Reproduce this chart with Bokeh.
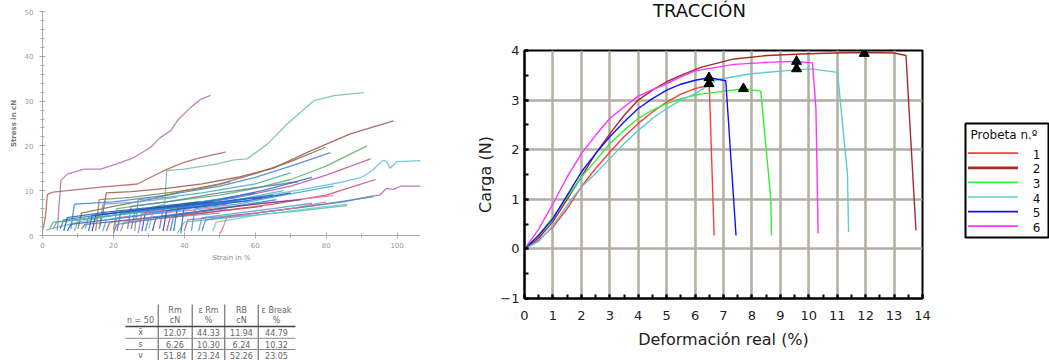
from bokeh.plotting import figure
from bokeh.layouts import row, column
from bokeh.models import Range1d, SingleIntervalTicker
from bokeh.core.properties import value
from bokeh.embed import file_html
from bokeh.resources import INLINE

FONT = "DejaVu Sans"

# ---------------- Left chart: Stress (cN) vs Strain (%) ----------------
left_strain = [
    [4.2, 4.6, 5.2, 7, 11.7, 16.4, 21, 25.8, 30.5, 33.3, 36.2, 38, 41.8, 44.6, 47.4],
    [0, 0.8, 1.4, 3, 7, 16.4, 26.8, 30.5, 35.2, 39.9, 44.6, 51.6],
    [1, 10, 20, 30, 34.5, 35, 39.9, 49.3, 54, 57.7, 63.4, 69, 76.5, 82.2, 90.6],
    [16, 17, 18, 25, 35, 45, 55, 65, 75.6, 86.8, 99],
    [20, 21, 30, 40, 50, 60, 70, 80, 91.5],
    [8, 9, 20, 35, 50, 60, 70, 81.2],
    [10, 11, 20, 30, 40, 50, 60, 70, 79.8],
    [25, 26, 40, 55, 70, 80, 92.5],
    [30, 31, 45, 60, 75, 85, 90, 93, 95, 96.2, 97, 98, 100, 106.6],
    [35, 36, 50, 65, 80, 93.9],
    [40, 41, 60, 75, 85, 92, 95, 97, 99, 101, 106.6],
    [38, 40, 55, 70, 85.9],
    [45, 46, 60, 75, 93.4],
    [20, 21, 40, 60, 82],
    [5, 6, 15, 30, 45, 60],
    [12, 13, 25, 40, 55, 68],
    [2, 3, 15, 30, 40],
    [28, 29, 40, 55, 65],
    [33, 34, 45, 55],
    [18, 19, 30, 45, 62],
    [24, 25, 35, 50, 72],
    [9, 10, 25, 40, 58],
    [14, 15, 30, 48],
    [27, 28, 40, 52],
    [48, 49, 60, 75, 86],
    [36, 37, 50, 66],
    [3, 4, 10, 20, 30],
    [16, 17, 27, 38],
    [31, 32, 45, 60, 73],
    [42, 43, 55, 68, 82],
    [22, 23, 35, 50],
    [7, 8, 18, 28],
    [11, 12, 25, 37, 47],
    [50, 50.5, 52, 60, 70, 80],
    [39, 40, 50, 62, 76],
    [26, 27, 35, 45, 60, 70],
    [20, 21, 30, 40],
    [15, 16, 25, 35, 45, 53],
    [13, 14, 25, 38, 50, 62],
    [21, 22, 32, 44, 56],
    [29, 30, 40, 52],
    [34, 35, 45, 58, 70],
    [17, 18, 30, 42],
    [44, 45, 55, 65, 76],
    [6, 7, 18, 30, 44],
    [37, 38, 48, 58],
]
left_stress = [
    [1.1, 6, 12.3, 13.7, 14.8, 14.8, 16, 17.4, 19.7, 21.9, 23.4, 25.6, 28.6, 30.4, 31.3],
    [1, 4, 9.2, 9.7, 10, 10.8, 11.5, 13, 14.8, 16.3, 17.4, 18.6],
    [1.2, 3, 4.5, 6, 7, 14.5, 14.8, 16, 16.9, 17.1, 20.4, 24.9, 30.1, 31.2, 31.9],
    [1.5, 5, 9.5, 9.8, 10.5, 11.5, 13, 15, 18.9, 22.7, 25.6],
    [1.5, 6, 7, 8, 9, 10.5, 12.5, 15.5, 20],
    [1.5, 7, 7.5, 9, 11, 13, 15.5, 18.5],
    [1.5, 5, 6.5, 8, 10, 11.5, 13.8, 16.5, 19.7],
    [1.5, 5, 6.5, 8.5, 11, 13.5, 17.1],
    [1.5, 5, 7, 8.5, 10.5, 12, 13, 14.5, 16, 16.8, 16.5, 15, 16.5, 16.7],
    [1, 4, 5.5, 7, 9, 12.5],
    [1, 3.5, 5, 6.5, 7.5, 8.7, 9, 10.5, 10.3, 11, 11],
    [0.5, 3, 4.2, 5.3, 6.7],
    [1, 3.5, 5, 6.5, 8.7],
    [1, 4, 5.5, 7, 8.9],
    [1.5, 3.5, 4.5, 6, 7.5, 9.5],
    [1.5, 4, 5, 6.5, 8, 10],
    [1.5, 3, 4, 5.5, 6.5],
    [1, 5, 6, 8, 9],
    [1.5, 6, 7.5, 8.5],
    [1, 3, 4, 5, 6.5],
    [1.5, 6.5, 7.5, 9.5, 12],
    [1, 3.5, 5, 7, 9],
    [1, 4.5, 6, 7.5],
    [0.5, 5, 6, 7],
    [1, 3, 4.5, 6, 7],
    [1, 4.5, 6, 8],
    [1.5, 3, 3.5, 4.5, 5.5],
    [1.5, 7, 7.5, 8.5],
    [1, 4, 5.5, 7, 8],
    [1, 6, 7, 9, 11],
    [1, 3, 4, 5],
    [1, 2.5, 3.5, 4.5],
    [1.5, 2.5, 3.5, 4.5, 5.5],
    [0.5, 1, 4, 5, 6, 7.5],
    [0.5, 7, 8, 10, 13],
    [1, 8, 8.5, 9.5, 11.5, 14],
    [0.5, 2.5, 3.5, 4.5],
    [1, 8, 8.5, 9.5, 10.5, 12],
    [1, 4.5, 5.5, 6.5, 7.5, 8.5],
    [1, 5, 5.8, 6.8, 7.8],
    [1, 4, 5, 6],
    [1, 5.5, 6.5, 7.8, 9.5],
    [1, 3.5, 4.8, 6],
    [1, 4, 5, 6, 7.2],
    [1, 4, 5.2, 6.2, 7.5],
    [1, 6, 6.8, 7.8],
]
left_colors = [
    "#b070b0", "#b0605a", "#70c0a8", "#a0504a", "#60b060", "#4080e0", "#807040",
    "#c050a0", "#60c0d8", "#d04060", "#b060b0", "#60c0b0", "#4090c0", "#e080a0",
    "#3070d0", "#50b0c0", "#70a060", "#2060c0", "#9060b0", "#d05050", "#6080a0",
    "#50c0e0", "#2040a0", "#c060c0", "#60d0c0", "#3080d0", "#50b0b0", "#70a0e0",
    "#604080", "#40a0d0", "#909090", "#3060c0", "#6070a0", "#e070a0", "#2070d0",
    "#40b0a0", "#8070c0", "#908050", "#1f5fd0", "#2a7ad8", "#3a8ae0", "#1f4fc0",
    "#4aa0e0", "#50a0d0", "#2060b0", "#3070c0",
]

# ---------------- Table under left chart ----------------
table_head_1 = ["", "Rm", "ε Rm", "RB", "ε Break"]
table_head_2 = ["n = 50", "cN", "%", "cN", "%"]
table_row_names = ["x̄", "s", "v"]
table_values = [
    ["12.07", "44.33", "11.94", "44.79"],
    ["6.26", "10.30", "6.24", "10.32"],
    ["51.84", "23.24", "52.26", "23.05"],
]

# ---------------- Right chart: TRACCIÓN ----------------
chart_title = "TRACCIÓN"
legend_title = "Probeta n.º"
probetas = ["1", "2", "3", "4", "5", "6"]
colors = ["#ff3b3b", "#a52a2a", "#33ee33", "#5ccccc", "#1010ff", "#ff33ff"]

strain_1 = [0, 0.5, 1, 1.5, 2, 2.5, 3, 3.5, 4, 4.5, 5, 5.5, 6, 6.5, 6.67]
load_1 = [0, 0.18, 0.44, 0.81, 1.25, 1.62, 1.95, 2.26, 2.53, 2.76, 2.96, 3.12, 3.23, 3.3, 0.27]
strain_2 = [0, 0.5, 1, 1.5, 2, 2.5, 3, 3.5, 4, 4.5, 5, 5.5, 6.2, 7.37, 8.55, 9.72, 10.89, 12.07, 13.0, 13.42, 13.59, 13.77]
load_2 = [0, 0.22, 0.55, 1.0, 1.45, 1.92, 2.32, 2.69, 3.0, 3.2, 3.37, 3.5, 3.66, 3.83, 3.9, 3.93, 3.95, 3.96, 3.95, 3.9, 2.18, 0.37]
strain_3 = [0, 0.5, 1, 1.5, 2, 2.5, 3, 3.5, 4, 4.5, 5, 5.5, 6.2, 7.72, 8.31, 8.66, 8.69]
load_3 = [0, 0.28, 0.64, 1.04, 1.45, 1.78, 2.12, 2.39, 2.63, 2.8, 2.93, 3.03, 3.12, 3.23, 3.18, 1.04, 0.27]
strain_4 = [0, 0.5, 1, 1.5, 2, 2.5, 3, 3.5, 4, 4.5, 5, 5.5, 6, 6.78, 7.96, 9.13, 10.07, 11.01, 11.36, 11.4]
load_4 = [0, 0.15, 0.47, 0.88, 1.25, 1.52, 1.82, 2.12, 2.39, 2.63, 2.83, 3.0, 3.13, 3.41, 3.53, 3.59, 3.63, 3.56, 1.51, 0.34]
strain_5 = [0, 0.5, 1, 1.5, 2, 2.5, 3, 3.5, 4, 4.5, 5, 5.5, 6, 6.5, 7.08, 7.44]
load_5 = [0, 0.27, 0.61, 1.08, 1.55, 1.92, 2.26, 2.56, 2.83, 3.03, 3.2, 3.32, 3.4, 3.45, 3.39, 0.27]
strain_6 = [0, 0.5, 1, 1.5, 2, 2.5, 3, 3.5, 4, 4.5, 5, 5.5, 6, 7.37, 8.54, 9.48, 10.13, 10.25, 10.33]
load_6 = [0, 0.4, 0.91, 1.45, 1.92, 2.29, 2.63, 2.86, 3.08, 3.21, 3.33, 3.47, 3.59, 3.72, 3.76, 3.78, 3.75, 2.85, 0.31]

peak_strain = [6.49, 11.95, 7.7, 9.57, 6.49, 9.57]
peak_load = [3.33, 3.94, 3.23, 3.63, 3.45, 3.78]

strains = [strain_1, strain_2, strain_3, strain_4, strain_5, strain_6]
loads = [load_1, load_2, load_3, load_4, load_5, load_6]

# ================= Left chart =================
pl = figure(width=430, height=270, x_range=Range1d(0, 106.6), y_range=Range1d(0, 50),
            output_backend="svg", toolbar_location=None,
            min_border_left=42, min_border_right=10, min_border_top=11, min_border_bottom=35)
pl.outline_line_color = None
pl.grid.grid_line_color = None
for xs, ys, c in zip(left_strain, left_stress, left_colors):
    pl.line(xs, ys, line_color=c, line_width=1.3, line_alpha=0.85)

pl.xaxis.ticker = SingleIntervalTicker(interval=20, num_minor_ticks=2)
pl.yaxis.ticker = SingleIntervalTicker(interval=10, num_minor_ticks=5)
for ax in (pl.xaxis[0], pl.yaxis[0]):
    ax.axis_line_color = "#a8a8a8"
    ax.major_tick_line_color = "#a8a8a8"
    ax.minor_tick_line_color = "#a8a8a8"
    ax.major_tick_in = 3
    ax.major_tick_out = 3
    ax.minor_tick_in = 2
    ax.minor_tick_out = 2
    ax.major_label_text_font = FONT
    ax.major_label_text_font_size = "7px"
    ax.major_label_text_color = "#999999"
    ax.axis_label_text_font = FONT
    ax.axis_label_text_font_size = "7px"
    ax.axis_label_text_color = "#888888"
    ax.axis_label_text_font_style = "normal"
pl.xaxis.axis_label = "Strain in %"
pl.yaxis.axis_label = "Stress in cN"
pl.yaxis.axis_label_text_font_style = "bold"
pl.yaxis.axis_label_text_color = "#777777"
pl.xaxis.major_label_standoff = 3
pl.xaxis.axis_label_standoff = 3
pl.yaxis.major_label_standoff = 6
pl.yaxis.axis_label_standoff = 4

# ================= Table (its frame is aligned with the chart's frame: page x 42..420) =================
pt = figure(width=430, height=90, x_range=Range1d(42, 420), y_range=Range1d(90, 0),
            output_backend="svg", toolbar_location=None, min_border=0,
            x_axis_type=None, y_axis_type=None)
pt.outline_line_color = None
pt.grid.grid_line_color = None
col_x = [140, 174.5, 208, 241, 276]
sep_x = [157.7, 191.7, 224.3, 257.7]
head_y = [40, 50]
row_y = [62, 73.5, 84.5]
tx, ty, tt = [], [], []
for i in range(5):
    tx += [col_x[i], col_x[i]]
    ty += head_y
    tt += [table_head_1[i], table_head_2[i]]
for r in range(3):
    tx.append(col_x[0]); ty.append(row_y[r]); tt.append(table_row_names[r])
    for c in range(4):
        tx.append(col_x[c + 1]); ty.append(row_y[r]); tt.append(table_values[r][c])
pt.text(tx, ty, text=tt, text_align="center", text_baseline="middle",
        text_font_size="8px", text_color="#666666", text_font=value(FONT))
pt.segment(x0=sep_x, y0=[34] * 4, x1=sep_x, y1=[90] * 4, line_color="#555555", line_width=1)
pt.segment(x0=[125], y0=[56], x1=[295], y1=[56], line_color="#444444", line_width=1.6)
pt.segment(x0=[125, 125], y0=[67.8, 79], x1=[295, 295], y1=[67.8, 79], line_color="#888888", line_width=1)

# ================= Right chart title strip (frame aligned with chart frame: local x 94..492) =================
ptitle = figure(width=502, height=40, x_range=Range1d(94, 492), y_range=Range1d(40, 0),
                output_backend="svg", toolbar_location=None, min_border=0,
                x_axis_type=None, y_axis_type=None)
ptitle.outline_line_color = None
ptitle.grid.grid_line_color = None
ptitle.text([269], [10], text=[chart_title], text_align="center", text_baseline="middle",
            text_font_size="18px", text_color="#111111", text_font=value(FONT))

# ================= Right chart =================
p = figure(width=502, height=320, x_range=Range1d(0, 14), y_range=Range1d(-1, 4),
           output_backend="svg", toolbar_location=None,
           min_border_left=94, min_border_right=10, min_border_top=10, min_border_bottom=62)
p.outline_line_color = "black"
p.outline_line_width = 2
p.outline_line_alpha = 1
p.xgrid.ticker = SingleIntervalTicker(interval=1)
p.ygrid.ticker = SingleIntervalTicker(interval=1)
p.grid.grid_line_color = "#b3aea2"
p.grid.grid_line_width = 2.5

p.xaxis.ticker = SingleIntervalTicker(interval=1, num_minor_ticks=2)
p.yaxis.ticker = SingleIntervalTicker(interval=1, num_minor_ticks=2)
for ax in (p.xaxis[0], p.yaxis[0]):
    ax.axis_line_color = "black"
    ax.axis_line_width = 2
    ax.major_tick_line_color = "black"
    ax.minor_tick_line_color = "black"
    ax.major_tick_line_width = 2
    ax.minor_tick_line_width = 2
    ax.major_tick_in = 4
    ax.major_tick_out = 0
    ax.minor_tick_in = 4
    ax.minor_tick_out = 0
    ax.major_label_text_font = FONT
    ax.major_label_text_font_size = "13px"
    ax.major_label_text_color = "#222222"
    ax.axis_label_text_font = FONT
    ax.axis_label_text_font_size = "16px"
    ax.axis_label_text_font_style = "normal"
    ax.axis_label_text_color = "#222222"
p.xaxis.axis_label = "Deformación real (%)"
p.yaxis.axis_label = "Carga (N)"
p.xaxis.major_label_standoff = 12
p.xaxis.axis_label_standoff = 7
p.yaxis.major_label_standoff = 5
p.yaxis.axis_label_standoff = 2

for xs, ys, c in zip(strains, loads, colors):
    p.line(xs, ys, line_color=c, line_width=1.4)
p.scatter(peak_strain, peak_load, marker="triangle", size=10, fill_color="black", line_color="black")

# ================= Legend strip (drawn by hand), page x 932..1049 =================
pleg = figure(width=117, height=360, x_range=Range1d(0, 117), y_range=Range1d(360, 0),
              output_backend="svg", toolbar_location=None, min_border=0,
              x_axis_type=None, y_axis_type=None)
pleg.outline_line_color = None
pleg.grid.grid_line_color = None
pleg.quad(left=[33], right=[116], top=[123], bottom=[237],
          fill_color="white", line_color="black", line_width=2)
pleg.text([38], [134], text=[legend_title], text_align="left", text_baseline="middle",
          text_font_size="12px", text_color="#111111", text_font=value(FONT))
item_y = [152.7 + 14.6 * i for i in range(len(probetas))]
pleg.segment(x0=[35.5] * len(probetas), y0=item_y, x1=[85.5] * len(probetas), y1=item_y,
             line_color=colors, line_width=[2.7 if k == "2" else 1.7 for k in probetas])
pleg.text([104] * len(probetas), [y + 1 for y in item_y], text=probetas, text_align="center",
          text_baseline="middle", text_font_size="12px", text_color="#111111", text_font=value(FONT))

layout = row(column(pl, pt), column(ptitle, p), pleg)
open("out.html", "w").write(file_html(layout, INLINE))
